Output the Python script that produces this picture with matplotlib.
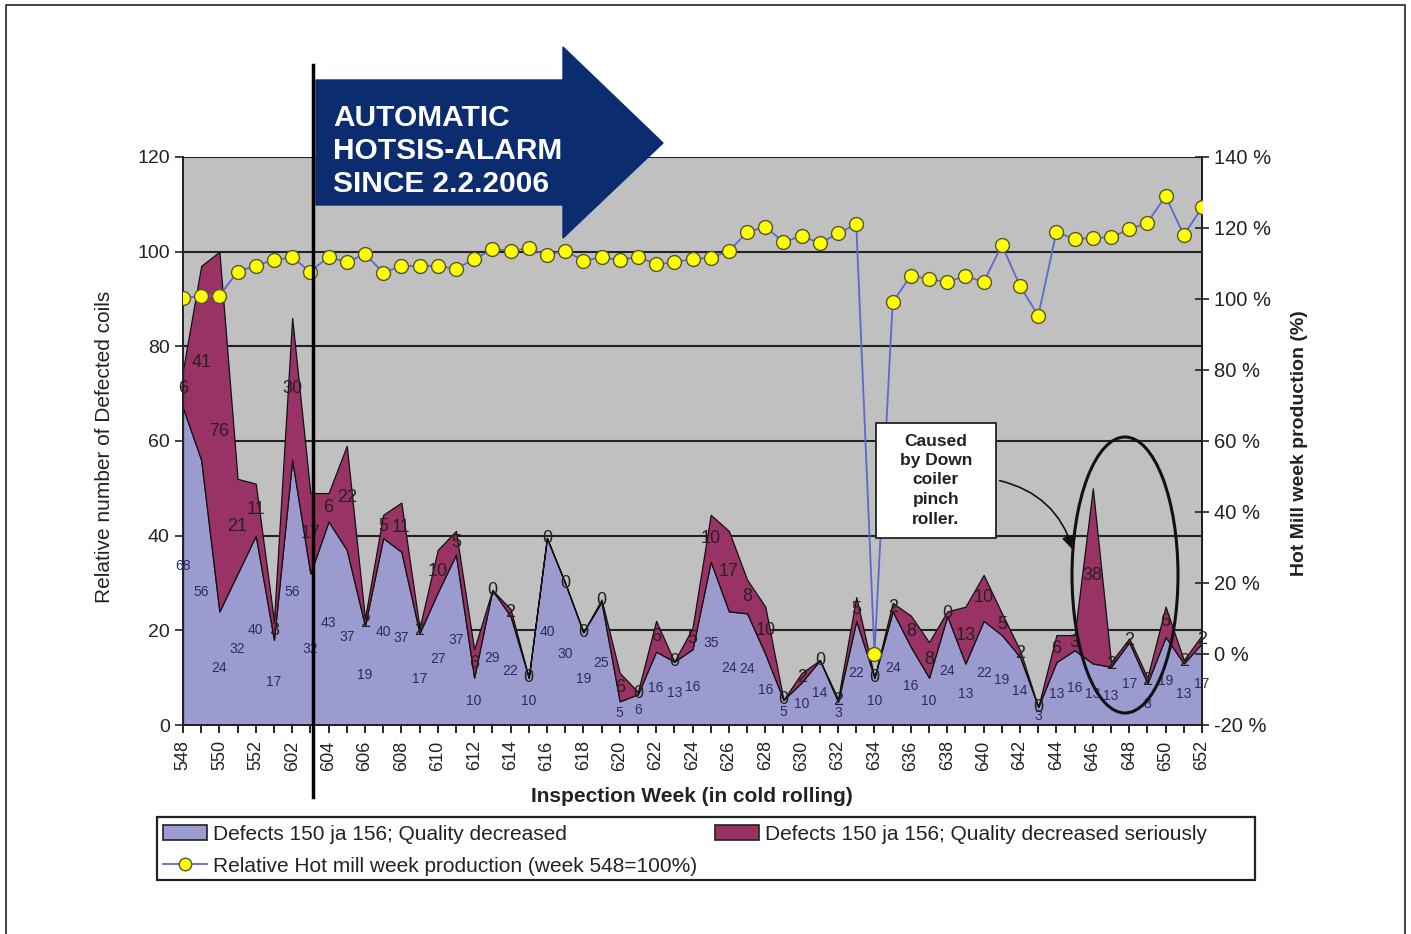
import numpy as np
import matplotlib
matplotlib.use("Agg")
import matplotlib.pyplot as plt
from matplotlib.patches import Polygon, Ellipse, FancyArrowPatch, Rectangle, Patch
from matplotlib.lines import Line2D

plt.rcParams['font.family'] = ['Liberation Sans', 'DejaVu Sans']

# semanas de inspeccion (548-552, 601-652)
weeks = list(range(548, 553)) + list(range(601, 653))

# "Quality decreased" (capa inferior), valor relativo trazado
lower = [67, 56, 24, 32, 40, 18, 56, 32, 43, 37,
         21, 39.5, 36.6, 19.4, 28, 36, 10, 28.5, 23, 10,
         39.5, 30, 19.6, 26, 5, 6.5, 15.5, 13.4, 16, 34.5,
         24, 23.6, 15, 5.3, 9, 13.7, 4.9, 22, 10, 24,
         16.5, 10, 23, 13, 22, 19, 14.4, 3.8, 13.3, 15.8,
         13, 12.3, 17.5, 8.8, 18.6, 13, 17.3]
# "Quality decreased seriously" (capa superior, apilada)
upper = [8, 41, 76, 20, 11, 4, 30, 17, 6, 22,
         1.5, 4.9, 10.4, 1.1, 9, 5, 6, 0, 1.5, 0,
         0, 0, 0, 0.5, 6, 0.5, 6.5, 0, 4.5, 9.9,
         17, 7.1, 10, 0, 2, 0, 0.6, 5, 0, 1.8,
         6.6, 7.5, 1, 12, 9.7, 4.6, 1.4, 0, 5.7, 3.2,
         37, 1, 0.8, 1.2, 6.4, 0.7, 1.7]
# etiquetas de datos (conteos)
lower_lbl = [68, 56, 24, 32, 40, 17, 56, 32, 43, 37,
             19, 40, 37, 17, 27, 37, 10, 29, 22, 10,
             40, 30, 19, 25, 5, 6, 16, 13, 16, 35,
             24, 24, 16, 5, 10, 14, 3, 22, 10, 24,
             16, 10, 24, 13, 22, 19, 14, 3, 13, 16,
             13, 13, 17, 8, 19, 13, 17]
upper_lbl = [6, 41, 76, 21, 11, 3, 30, 17, 6, 22,
             2, 5, 11, 2, 10, 5, 6, 0, 2, 0,
             0, 0, 0, 0, 6, 0, 6, 0, 5, 10,
             17, 8, 10, 0, 2, 0, 2, 5, 0, 2,
             8, 8, 0, 13, 10, 5, 2, 0, 6, 3,
             38, 2, 2, 2, 6, 2, 2]
# produccion relativa hot mill (%), semana 548 = 100 %
prod = [100.2, 100.9, 100.9, 107.7, 109.4, 111, 111.7, 107.7, 111.9, 110.3,
        112.7, 107.4, 109.3, 109.3, 109.3, 108.5, 111.2, 114, 113.6, 114.3,
        112.4, 113.6, 110.8, 111.7, 111, 111.9, 109.8, 110.3, 111.3, 111.6,
        113.5, 118.8, 120.4, 116, 117.8, 115.7, 118.5, 121.1, 0, 99.1,
        106.6, 105.6, 104.7, 106.6, 104.7, 115.2, 103.7, 95.3, 118.8, 116.9,
        117.2, 117.4, 119.6, 121.5, 129, 118, 125.8]

W, H = 1411, 934
def fx(px): return px / W
def fy(py): return 1 - py / H

C_LOW, C_UP, C_LN = "#9c9bd0", "#993366", "#5d68cc"
TXT = "#222222"
x = np.arange(len(weeks))
lo = np.array(lower); up = np.array(upper)

fig = plt.figure(figsize=(W / 100, H / 100), dpi=100)
ax = fig.add_axes([fx(183), fy(725), fx(1202) - fx(183), fy(157) - fy(725)])
ax.set_facecolor("#c0c0c0")
ax.stackplot(x, lo, up, colors=[C_LOW, C_UP], edgecolor="#111111", lw=0.9, zorder=2)
ax.set_xlim(0, len(weeks) - 1); ax.set_ylim(0, 120)
ax.set_yticks(range(0, 121, 20))
ax.yaxis.grid(True, color=TXT, lw=1.5, zorder=0)
ax.set_axisbelow(True)
ax.set_xticks(x)
ax.set_xticklabels([str(w) if i % 2 == 0 else "" for i, w in enumerate(weeks)],
                   rotation=90, fontsize=13, color=TXT)
ax.tick_params(axis="x", length=6, width=1.2, pad=5)
ax.tick_params(axis="y", labelsize=14, length=6, width=1.2, colors=TXT)
ax.spines["top"].set_visible(False)
for s in ("left", "bottom", "right"):
    ax.spines[s].set_color(TXT); ax.spines[s].set_linewidth(1.4)

# etiquetas de datos al centro de cada capa
for i in x:
    ax.text(i, lo[i] / 2, str(lower_lbl[i]), fontsize=10, color="#2c2c60",
            ha="center", va="center", zorder=3)
    ax.text(i, lo[i] + up[i] / 2, str(upper_lbl[i]), fontsize=13, color="#2a2020",
            ha="center", va="center", zorder=3)

ax2 = ax.twinx()
ax2.set_ylim(-20, 140)
ax2.set_yticks(range(-20, 141, 20))
ax2.set_yticklabels([f"{v} %" for v in range(-20, 141, 20)])
ax2.tick_params(axis="y", labelsize=14.5, length=10, width=1.2, direction="inout",
                colors=TXT)
ax2.spines["right"].set_color(TXT); ax2.spines["right"].set_linewidth(1.4)
for s in ("top", "left", "bottom"):
    ax2.spines[s].set_visible(False)
ax2.plot(x, prod, "-", color=C_LN, lw=1.3, marker="o", ms=10,
         mfc="#ffff00", mec="#555533", mew=1, zorder=5)

# textos de ejes
fig.text(fx(105), fy(447), "Relative number of Defected coils", rotation=90,
         ha="center", va="center", fontsize=15, color=TXT)
fig.text(fx(1300), fy(443), "Hot Mill week production (%)", rotation=90,
         ha="center", va="center", fontsize=14, fontweight="bold", color=TXT)
fig.text(fx(692), fy(796), "Inspection Week (in cold rolling)",
         ha="center", va="center", fontsize=15, fontweight="bold", color=TXT)

# leyenda (marco aparte)
fig.add_artist(Rectangle((fx(157), fy(880)), fx(1255) - fx(157), fy(817) - fy(880),
                         fc="white", ec=TXT, lw=1.6, transform=fig.transFigure, zorder=1))
h_low = Patch(fc=C_LOW, ec=TXT, lw=1.2, label="Defects 150 ja 156; Quality decreased")
h_up = Patch(fc=C_UP, ec=TXT, lw=1.2, label="Defects 150 ja 156; Quality decreased seriously")
h_ln = Line2D([], [], color=C_LN, lw=1.3, marker="o", ms=9, mfc="#ffff00",
              mec="#555533", label="Relative Hot mill week production (week 548=100%)")
leg = fig.legend(handles=[h_low, h_ln, h_up], ncol=2, loc="upper left",
                 bbox_to_anchor=(fx(163), fy(825)), fontsize=15, frameon=False,
                 borderaxespad=0, borderpad=0, handlelength=2.1, handletextpad=0.3,
                 labelspacing=0.6, columnspacing=0.85)
for t in leg.get_texts():
    t.set_color(TXT)

# flecha azul "AUTOMATIC HOTSIS-ALARM"
pts = [(316, 80), (563, 80), (563, 47), (663, 143), (563, 238), (563, 205), (316, 205)]
fig.add_artist(Polygon([(fx(a), fy(b)) for a, b in pts], closed=True,
                       fc="#0b2c6e", ec="#0b2c6e", transform=fig.transFigure, zorder=6))
for txt, yy in (("AUTOMATIC", 118), ("HOTSIS-ALARM", 151), ("SINCE 2.2.2006", 184)):
    fig.text(fx(333), fy(yy), txt, color="white", fontsize=21.5, fontweight="bold",
             ha="left", va="center", zorder=7)
fig.add_artist(Line2D([fx(313), fx(313)], [fy(65), fy(797)], color="black", lw=2.5,
                      transform=fig.transFigure, zorder=8))

# cuadro de nota + flecha curva + elipse
fig.add_artist(Rectangle((fx(876), fy(538)), fx(996) - fx(876), fy(423) - fy(538),
                         fc="white", ec=TXT, lw=1.3, transform=fig.transFigure, zorder=6))
for k, t in enumerate(["Caused", "by Down", "coiler", "pinch", "roller."]):
    fig.text(fx(936), fy(441 + 19.5 * k), t, ha="center", va="center",
             fontsize=12.5, fontweight="bold", color=TXT, zorder=7)
fig.add_artist(FancyArrowPatch((fx(997), fy(480)), (fx(1074), fy(553)),
                               connectionstyle="arc3,rad=-0.3", arrowstyle="-|>",
                               mutation_scale=22, color="#111111", lw=1.2,
                               transform=fig.transFigure, zorder=7))
fig.add_artist(Ellipse((fx(1125), fy(575)), fx(106), 276 / H, fill=False,
                       ec="#111111", lw=2.2, transform=fig.transFigure, zorder=7))

# marco exterior
fig.add_artist(Line2D([fx(6), fx(6), fx(1405), fx(1405)], [0, fy(5), fy(5), 0],
                      color=TXT, lw=1.2, transform=fig.transFigure))

fig.savefig("out.png", dpi=100)
